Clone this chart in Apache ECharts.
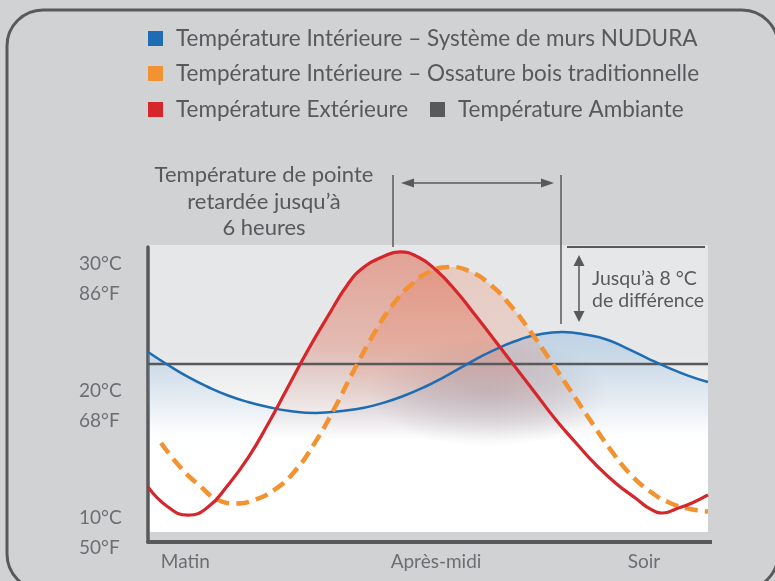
<!DOCTYPE html>
<html>
<head>
<meta charset="utf-8">
<script src="https://cdn.jsdelivr.net/npm/echarts@6.0.0/dist/echarts.min.js"></script>
<style>
  html, body { margin: 0; padding: 0; background: #d1d2d4; }
  #main { width: 775px; height: 581px; }
</style>
</head>
<body>
<div id="main"></div>
<script>
// heures depuis le bord gauche du graphique, et températures en °C
var heuresNudura = [0, 0.75, 1.5, 2.25, 3, 3.75, 4.5, 5.25, 6.3, 7.35, 8.1, 8.85, 9.6, 10.35,
                    11.1, 11.85, 12.6, 13.35, 13.95, 14.55, 15.53, 16.5, 17.25, 18, 18.75, 19.5, 20.25, 21];
var nudura = [24.24, 23.22, 22.28, 21.49, 20.82, 20.31, 19.92, 19.63, 19.45, 19.63, 19.86, 20.26, 20.80, 21.47,
              22.27, 23.15, 24.01, 24.75, 25.23, 25.58, 25.81, 25.58, 25.19, 24.48, 23.73, 23.02, 22.39, 21.88];

var heuresBois = [0.49, 1.24, 1.99, 2.63, 3.3, 3.98, 4.73, 5.48, 6.23, 6.98, 7.73, 8.48, 9.23, 9.9, 10.58,
                  11.33, 12.08, 12.83, 13.58, 14.33, 15.08, 15.83, 16.58, 17.33, 18.08, 18.83, 19.58, 20.33, 21];
var boisTrad = [17.09, 15.12, 13.63, 12.60, 12.33, 12.60, 13.39, 14.81, 17.01, 19.76, 22.83, 25.70, 28.10, 29.59, 30.57,
                30.93, 30.57, 29.55, 27.94, 25.89, 23.61, 21.25, 18.89, 16.61, 14.65, 13.27, 12.37, 11.90, 11.70];

var heuresExt = [0, 0.75, 1.5, 2.25, 3, 3.75, 4.5, 5.25, 6, 6.75, 7.5, 8.1, 8.78, 9.45, 10.13, 10.8,
                 11.55, 12.3, 13.05, 13.8, 14.55, 15.3, 16.05, 16.8, 17.55, 18.3, 18.83, 19.31, 19.8, 20.4, 21];
var exterieur = [13.63, 12.05, 11.42, 12.05, 13.78, 15.91, 18.58, 21.49, 24.40, 27.07, 29.59, 30.93, 31.71, 32.11, 31.71, 30.69,
                 29.04, 27.07, 25.03, 22.98, 20.94, 18.89, 17.09, 15.36, 13.90, 12.72, 11.90, 11.58, 11.90, 12.37, 13.00];

var heuresAmb = [0, 21];
var ambiante = [23.3, 23.3];

var seriesNames = [
  'Température Intérieure – Système de murs NUDURA',
  'Température Intérieure – Ossature bois traditionnelle',
  'Température Extérieure',
  'Température Ambiante'
];
var yTicks = [10, 20, 30];
var yLabelsC = ['10°C', '20°C', '30°C'];
var yLabelsF = ['50°F', '68°F', '86°F'];
var xTicks = [1.4, 10.8, 18.6];
var xLabels = ['Matin', 'Après-midi', 'Soir'];

var FONT = 'Lato, "Open Sans", sans-serif';
var GRIS = '#58595b';

function pairs(xs, ys) {
  return xs.map(function (h, i) { return [h, ys[i]]; });
}
function grad(y0, y1, stops) {
  return new echarts.graphic.LinearGradient(0, y0, 0, y1, stops.map(function (s) {
    return {offset: s[0], color: s[1]};
  }), true);
}
function zone(xs, ys, y0, y1, stops) {
  return {
    type: 'line', data: pairs(xs, ys), smooth: true, showSymbol: false, silent: true,
    lineStyle: {width: 0}, z: 1,
    areaStyle: {origin: 'start', color: grad(y0, y1, stops)}
  };
}
function courbe(name, xs, ys, color, width, type) {
  return {
    name: name, type: 'line', data: pairs(xs, ys), smooth: true, showSymbol: false, silent: true,
    color: color, z: 3,
    lineStyle: {color: color, width: width, type: type || 'solid', cap: 'butt'}
  };
}
function legende(name, left, top) {
  return {
    data: [name], left: left, top: top, padding: 0, icon: 'rect', itemWidth: 15, itemHeight: 15,
    selectedMode: false, itemStyle: {borderWidth: 0},
    textStyle: {color: GRIS, fontSize: 22.5, fontFamily: FONT, padding: [0, 0, 0, 8]}
  };
}

var chart = echarts.init(document.getElementById('main'));
chart.setOption({
  animation: false,
  backgroundColor: '#d1d2d4',
  legend: [
    legende(seriesNames[0], 148, 27),
    legende(seriesNames[1], 148, 62),
    legende(seriesNames[2], 148, 98),
    legende(seriesNames[3], 430, 98)
  ],
  grid: {left: 148, right: 67, top: 247, bottom: 39},
  xAxis: {
    type: 'value', min: 0, max: 21,
    axisLine: {lineStyle: {color: GRIS, width: 4}},
    axisTick: {show: false},
    splitLine: {show: false},
    axisLabel: {
      customValues: xTicks, margin: 10, color: '#6d6e71', fontSize: 19, fontFamily: FONT,
      formatter: function (v) { return xLabels[xTicks.indexOf(v)] || ''; }
    }
  },
  yAxis: {
    type: 'value', min: 9.3, max: 32.5,
    axisLine: {show: true, lineStyle: {color: GRIS, width: 3.5}},
    axisTick: {show: false},
    splitLine: {show: false},
    axisLabel: {
      customValues: yTicks, margin: 69, align: 'left',
      formatter: function (v) {
        var i = yTicks.indexOf(v);
        return '{c|' + yLabelsC[i] + '}\n{f|' + yLabelsF[i] + '}';
      },
      rich: {
        c: {color: '#6d6e71', fontSize: 19, fontFamily: FONT, lineHeight: 30},
        f: {color: '#6d6e71', fontSize: 19, fontFamily: FONT, lineHeight: 30}
      }
    }
  },
  graphic: [
    {type: 'rect', z: -10, silent: true,
     shape: {x: 148, y: 245, width: 560, height: 287},
     style: {fill: new echarts.graphic.LinearGradient(0, 0, 0, 1, [
       {offset: 0, color: '#e6e7e8'}, {offset: 0.38, color: '#e6e7e8'},
       {offset: 0.66, color: '#ffffff'}, {offset: 1, color: '#ffffff'}])}},
    // ombre grise sous le croisement des courbes
    {type: 'rect', z: -5, silent: true, x: 488, y: 392, scaleX: 2.2,
     shape: {x: -55, y: -55, width: 110, height: 110},
     style: {fill: new echarts.graphic.RadialGradient(0.5, 0.5, 0.5, [
       {offset: 0, color: 'rgba(125,110,125,0.3)'}, {offset: 0.55, color: 'rgba(125,110,125,0.17)'},
       {offset: 1, color: 'rgba(125,110,125,0)'}])}},
    {type: 'rect', silent: true,
     shape: {x: 7, y: 10, width: 771, height: 580, r: 36},
     style: {fill: 'none', stroke: GRIS, lineWidth: 3}},
    {type: 'text', silent: true,
     style: {text: 'Température de pointe\nretardée jusqu’à\n6 heures', x: 264, y: 162,
             align: 'center', verticalAlign: 'top', lineHeight: 26.5,
             fontSize: 22, fontFamily: FONT, fill: GRIS}},
    {type: 'text', silent: true,
     style: {text: 'Jusqu’à 8 °C\nde différence', x: 592, y: 268,
             align: 'left', verticalAlign: 'top', lineHeight: 22,
             fontSize: 19.5, fontFamily: FONT, fill: GRIS}},
    // repères du décalage de pointe
    {type: 'line', silent: true, shape: {x1: 393, y1: 175, x2: 393, y2: 247}, style: {stroke: GRIS, lineWidth: 1.5}},
    {type: 'line', silent: true, shape: {x1: 561, y1: 175, x2: 561, y2: 324}, style: {stroke: GRIS, lineWidth: 1.5}},
    {type: 'line', silent: true, shape: {x1: 410, y1: 183, x2: 545, y2: 183}, style: {stroke: GRIS, lineWidth: 1.5}},
    {type: 'polygon', silent: true, shape: {points: [[401, 183], [414, 178.5], [414, 187.5]]}, style: {fill: GRIS}},
    {type: 'polygon', silent: true, shape: {points: [[554, 183], [541, 178.5], [541, 187.5]]}, style: {fill: GRIS}},
    // écart de 8 °C
    {type: 'line', silent: true, shape: {x1: 567, y1: 247, x2: 705, y2: 247}, style: {stroke: GRIS, lineWidth: 2}},
    {type: 'line', silent: true, shape: {x1: 579, y1: 262, x2: 579, y2: 315}, style: {stroke: GRIS, lineWidth: 1.5}},
    {type: 'polygon', silent: true, shape: {points: [[579, 255], [573.5, 266], [584.5, 266]]}, style: {fill: GRIS}},
    {type: 'polygon', silent: true, shape: {points: [[579, 322], [573.5, 311], [584.5, 311]]}, style: {fill: GRIS}},
    // prolongement de l'axe horizontal
    {type: 'line', silent: true, shape: {x1: 706, y1: 542, x2: 712, y2: 542}, style: {stroke: GRIS, lineWidth: 4}}
  ],
  series: [
    zone(heuresNudura, nudura, 330, 440, [[0, 'rgba(115,172,225,0.5)'], [0.4, 'rgba(125,178,225,0.3)'],
                                          [1, 'rgba(130,180,225,0)']]),
    zone(heuresBois, boisTrad, 265, 440, [[0, 'rgba(236,125,85,0.38)'], [0.55, 'rgba(228,135,108,0.3)'],
                                          [1, 'rgba(190,150,150,0)']]),
    zone(heuresExt, exterieur, 250, 440, [[0, 'rgba(220,80,50,0.66)'], [0.5, 'rgba(222,105,78,0.5)'],
                                          [0.8, 'rgba(190,130,125,0.22)'], [1, 'rgba(170,140,140,0)']]),
    courbe(seriesNames[3], heuresAmb, ambiante, GRIS, 2.5),
    courbe(seriesNames[0], heuresNudura, nudura, '#1e6db4', 2.5),
    courbe(seriesNames[1], heuresBois, boisTrad, '#f39230', 4.5, [13, 7]),
    courbe(seriesNames[2], heuresExt, exterieur, '#d4262b', 3.2)
  ]
});
</script>
</body>
</html>
